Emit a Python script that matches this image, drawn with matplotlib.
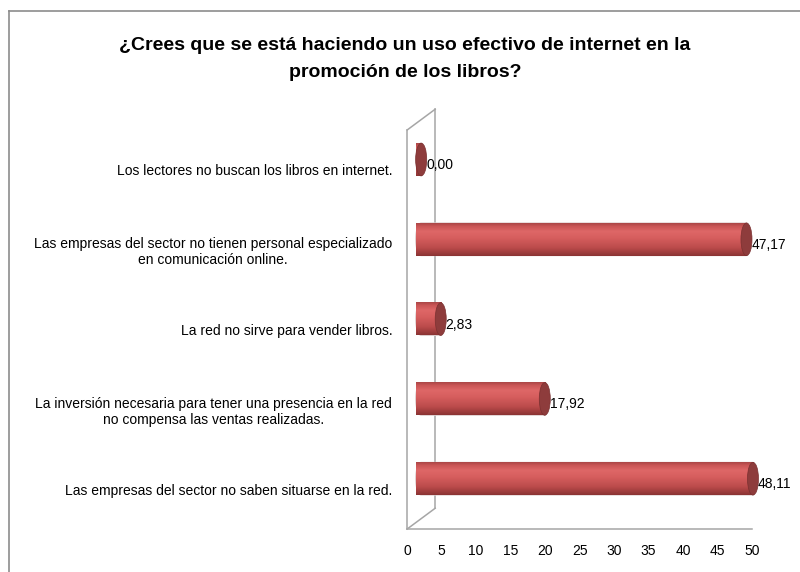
import numpy as np
import matplotlib
matplotlib.use("Agg")
import matplotlib.pyplot as plt
from matplotlib.path import Path
from matplotlib.patches import PathPatch, Ellipse
from matplotlib.colors import LinearSegmentedColormap
from matplotlib.lines import Line2D

plt.rcParams['font.family'] = ['Liberation Sans', 'DejaVu Sans']

# ----- data (bottom to top) -----
categories = [
    "Las empresas del sector no saben situarse en la red.",
    "La inversión necesaria para tener una presencia en la red\nno compensa las ventas realizadas.",
    "La red no sirve para vender libros.",
    "Las empresas del sector no tienen personal especializado\nen comunicación online.",
    "Los lectores no buscan los libros en internet.",
]
values = [48.11, 17.92, 2.83, 47.17, 0.00]
xticks = list(range(0, 51, 5))
title = "¿Crees que se está haciendo un uso efectivo de internet en la\npromoción de los libros?"

# ----- 3D look parameters -----
depth_x = 4.06       # wall depth along x (data units)
depth_y = 0.26       # wall depth along y (category units)
bar_h = 0.41         # cylinder diameter
cap_w = 1.6          # horizontal size of the elliptic ends
wall_col = "#a6a6a6"

cyl_cmap = LinearSegmentedColormap.from_list("cyl", [
    (0.00, "#8a3333"),
    (0.25, "#bb4b4b"),
    (0.55, "#d65e5e"),
    (0.75, "#de6767"),
    (0.90, "#ca5656"),
    (1.00, "#aa4646"),
])

fig = plt.figure(figsize=(8.0, 5.72), dpi=100)
ax = fig.add_axes([0.509, 0.0752, 0.431, 0.6976])
for s in ax.spines.values():
    s.set_visible(False)

# back wall and floor edge
y0, y1 = -0.5, len(categories) - 0.5
wall_kw = dict(color=wall_col, lw=1.1, zorder=1, clip_on=False)
ax.plot([0, 0], [y0, y1], **wall_kw)
ax.plot([depth_x, depth_x], [y0 + depth_y, y1 + depth_y], **wall_kw)
ax.plot([0, depth_x], [y1, y1 + depth_y], **wall_kw)
ax.plot([0, depth_x], [y0, y0 + depth_y], **wall_kw)
ax.plot([0, 50], [y0, y0], **wall_kw)

grad = np.linspace(0, 1, 256).reshape(-1, 1)
ox, oy = depth_x / 2, depth_y / 2
t = np.linspace(np.pi / 2, 3 * np.pi / 2, 40)
for i, v in enumerate(values):
    yc = i + oy
    xs, xe = ox, v + ox
    yb, yt = yc - bar_h / 2, yc + bar_h / 2
    # body: rectangle with rounded left end
    arc_x = xs + cap_w / 2 * np.cos(t)
    arc_y = yc + bar_h / 2 * np.sin(t)
    verts = [(xs, yb), (xe, yb), (xe, yt), (xs, yt)] + list(zip(arc_x, arc_y)) + [(xs, yb)]
    codes = [Path.MOVETO] + [Path.LINETO] * (len(verts) - 2) + [Path.CLOSEPOLY]
    body = PathPatch(Path(verts, codes), facecolor="none", edgecolor="#dccccc",
                     lw=0.8, zorder=3, clip_on=False)
    ax.add_patch(body)
    im = ax.imshow(grad, cmap=cyl_cmap, origin="lower", aspect="auto",
                   extent=(xs - cap_w / 2, xe, yb, yt), zorder=3, clip_on=False)
    im.set_clip_path(body)
    # right cap
    cap = Ellipse((xe, yc), cap_w, bar_h, facecolor="#8e3c3c", edgecolor="#7a3030",
                  lw=0.5, zorder=4, clip_on=False)
    ax.add_patch(cap)
    ax.text(xe + 0.7, yc - 0.07, f"{v:.2f}".replace(".", ","), ha="left", va="center",
            fontsize=10, color="#000000", zorder=5)

ax.set_xlim(0, 50)
ax.set_ylim(y0, y1)
ax.set_xticks(xticks)
ax.set_xticklabels([str(x) for x in xticks], fontsize=10)
ax.set_yticks(range(len(categories)))
ax.set_yticklabels(categories, fontsize=10, multialignment="center")
ax.tick_params(axis="y", length=0, pad=10.8)
ax.tick_params(axis="x", length=0, pad=11)

fig.text(0.506, 1 - 59 / 572, title, ha="center", va="center", fontsize=14,
         fontweight="bold", linespacing=1.8)

# chart frame
fig.add_artist(Line2D([9 / 800, 9 / 800], [0, 1 - 11 / 572], color="#8c8c8c", lw=1.2))
fig.add_artist(Line2D([9 / 800, 1], [1 - 11 / 572, 1 - 11 / 572], color="#8c8c8c", lw=1.2))

fig.savefig("out.png", dpi=100)
